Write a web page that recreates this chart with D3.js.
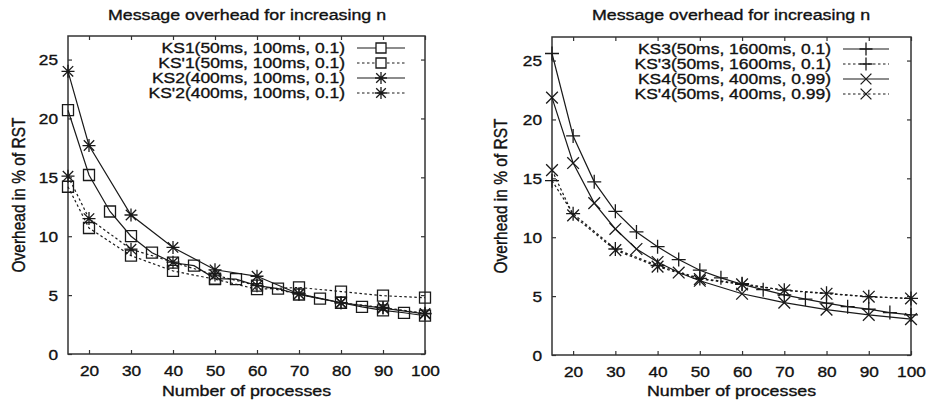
<!DOCTYPE html>
<html>
<head>
<meta charset="utf-8">
<script src="https://cdn.jsdelivr.net/npm/d3@7"></script>
<style>
  body { margin: 0; background: #fff; }
  svg text { font-family: "Liberation Sans", Arial, sans-serif; fill: #111; stroke: #111; stroke-width: 0.35px; }
</style>
</head>
<body>
<svg id="chart" width="928" height="401"></svg>
<script>
// x positions (number of processes)
const nFine = [15, 20, 25, 30, 35, 40, 45, 50, 55, 60, 65, 70, 75, 80, 85, 90, 95, 100];
const nCoarse = [15, 20, 30, 40, 50, 60, 70, 80, 90, 100];
const nKS4 = [15, 20, 25, 30, 35, 40, 45, 50, 60, 70, 80, 90, 100];
const xTicks = [20, 30, 40, 50, 60, 70, 80, 90, 100];
const yTicks = [0, 5, 10, 15, 20, 25];

// overhead in % of RST
const ks1 = [20.7, 15.2, 12.1, 10.0, 8.6, 7.75, 7.5, 6.4, 6.35, 5.8, 5.55, 5.05, 4.7, 4.35, 4.0, 3.7, 3.5, 3.25];
const ks1p = [14.2, 10.7, 8.35, 7.05, 6.35, 5.5, 5.65, 5.3, 4.95, 4.78];
const ks2 = [24.0, 17.7, 11.8, 9.05, 7.15, 6.6, 5.1, 4.35, 3.9, 3.4];
const ks2p = [15.1, 11.5, 8.9, 7.8, 6.7, 5.8, 5.1, 4.35, 3.95, 3.45];
const ks3 = [25.6, 18.6, 14.7, 12.2, 10.45, 9.2, 8.1, 7.2, 6.55, 6.0, 5.55, 5.1, 4.75, 4.4, 4.1, 3.9, 3.6, 3.4];
const ks3p = [14.8, 12.0, 9.0, 7.6, 6.5, 6.05, 5.5, 5.25, 4.95, 4.8];
const ks4 = [21.85, 16.3, 12.9, 10.7, 9.0, 7.9, 7.0, 6.3, 5.2, 4.45, 3.85, 3.4, 3.05];
const ks4p = [15.7, 11.85, 8.9, 7.5, 6.45, 6.0, 5.5, 5.2, 4.95, 4.8];

const titleText = "Message overhead for increasing n";
const xLabelText = "Number of processes";
const yLabelText = "Overhead in % of RST";

const SX = 1.15;      // the scanned figure is stretched horizontally
const INK = "#1a1a1a";

const svg = d3.select("#chart");

// marker shapes, drawn as stroked paths
function markerPath(type, s) {
  const p = d3.path();
  if (type === "square") {
    p.rect(-s / 2, -s / 2, s, s);
  }
  if (type === "plus" || type === "star") {
    p.moveTo(-s / 2, 0); p.lineTo(s / 2, 0);
    p.moveTo(0, -s / 2); p.lineTo(0, s / 2);
  }
  if (type === "times" || type === "star") {
    const d = type === "star" ? s * 0.4 : s * 0.45;
    p.moveTo(-d, -d); p.lineTo(d, d);
    p.moveTo(-d, d); p.lineTo(d, -d);
  }
  return p.toString();
}
const markerSize = { square: 11, star: 13, plus: 14, times: 13 };

function stretched(g, x, y, str, anchor, size) {
  return g.append("text")
    .attr("transform", `translate(${x},${y}) scale(${SX},1)`)
    .attr("text-anchor", anchor)
    .attr("font-size", size)
    .text(str);
}

function drawPanel(cfg) {
  const g = svg.append("g");
  const x = d3.scaleLinear().domain([15, 100]).range([cfg.left, cfg.right]);
  const y = d3.scaleLinear().domain([0, 27]).range([cfg.bottom, cfg.top]);

  // inward ticks on all four sides
  const axes = [
    [d3.axisBottom(x).tickValues(xTicks), `translate(0,${cfg.bottom})`, true],
    [d3.axisTop(x).tickValues(xTicks).tickFormat(""), `translate(0,${cfg.top})`, false],
    [d3.axisLeft(y).tickValues(yTicks), `translate(${cfg.left},0)`, true],
    [d3.axisRight(y).tickValues(yTicks).tickFormat(""), `translate(${cfg.right},0)`, false]
  ];
  axes.forEach(([ax, tr, labelled], i) => {
    const a = g.append("g").attr("transform", tr)
      .call(ax.tickSizeInner(-4).tickSizeOuter(0).tickPadding(10));
    a.select(".domain").remove();
    a.selectAll(".tick line").attr("stroke", "#333").attr("stroke-width", 1.2);
    if (!labelled) return;
    const t = a.selectAll(".tick text")
      .attr("font-size", 15)
      .attr("font-family", "Liberation Sans, Arial, sans-serif")
      .attr("fill", "#111");
    if (i === 0) t.attr("y", 11).attr("dy", "0.71em").attr("transform", `scale(${SX},1)`);
    else t.attr("x", -10 / SX).attr("dy", "0.36em").attr("transform", `scale(${SX},1)`);
  });

  g.append("rect")
    .attr("x", cfg.left).attr("y", cfg.top)
    .attr("width", cfg.right - cfg.left).attr("height", cfg.bottom - cfg.top)
    .attr("fill", "none").attr("stroke", "#333").attr("stroke-width", 1.5);

  stretched(g, cfg.titleX, 20, titleText, "middle", 15.5);
  stretched(g, (cfg.left + cfg.right) / 2, 396, xLabelText, "middle", 15.5);
  g.append("text")
    .attr("transform", `translate(${cfg.yLabelX},${(cfg.top + cfg.bottom) / 2}) rotate(-90) scale(1,${SX})`)
    .attr("text-anchor", "middle")
    .attr("font-size", 15.5)
    .text(yLabelText);

  const line = d3.line().x(d => x(d[0])).y(d => y(d[1]));

  cfg.series.forEach((s, k) => {
    const pts = s.n.map((n, i) => [n, s.v[i]]);
    g.append("path")
      .datum(pts)
      .attr("d", line)
      .attr("fill", "none")
      .attr("stroke", INK)
      .attr("stroke-width", 1.2)
      .attr("stroke-dasharray", s.dashed ? "2.5,2.5" : null);
    g.append("g").selectAll("path")
      .data(pts)
      .join("path")
      .attr("transform", d => `translate(${x(d[0])},${y(d[1])})`)
      .attr("d", markerPath(s.marker, markerSize[s.marker]))
      .attr("fill", "none")
      .attr("stroke", INK)
      .attr("stroke-width", 1.3);

    // legend row
    const ly = cfg.legendY0 + k * 15;
    stretched(g, cfg.legendTextX, ly, s.label, "end", 15.2).attr("dy", "0.36em");
    g.append("line")
      .attr("x1", cfg.legendLine[0]).attr("x2", cfg.legendLine[1])
      .attr("y1", ly).attr("y2", ly)
      .attr("stroke", INK).attr("stroke-width", 1.2)
      .attr("stroke-dasharray", s.dashed ? "2.5,2.5" : null);
    g.append("path")
      .attr("transform", `translate(${(cfg.legendLine[0] + cfg.legendLine[1]) / 2},${ly})`)
      .attr("d", markerPath(s.marker, markerSize[s.marker] - 1))
      .attr("fill", "#fff")
      .attr("stroke", INK)
      .attr("stroke-width", 1.3);
  });
}

drawPanel({
  left: 68, right: 425, top: 36, bottom: 354,
  titleX: 247, yLabelX: 25,
  legendTextX: 345, legendLine: [357, 405], legendY0: 48,
  series: [
    { label: "KS1(50ms, 100ms, 0.1)", n: nFine, v: ks1, marker: "square", dashed: false },
    { label: "KS'1(50ms, 100ms, 0.1)", n: nCoarse, v: ks1p, marker: "square", dashed: true },
    { label: "KS2(400ms, 100ms, 0.1)", n: nCoarse, v: ks2, marker: "star", dashed: false },
    { label: "KS'2(400ms, 100ms, 0.1)", n: nCoarse, v: ks2p, marker: "star", dashed: true }
  ]
});

drawPanel({
  left: 552, right: 911, top: 37, bottom: 355,
  titleX: 731, yLabelX: 507,
  legendTextX: 831, legendLine: [843, 889], legendY0: 49,
  series: [
    { label: "KS3(50ms, 1600ms, 0.1)", n: nFine, v: ks3, marker: "plus", dashed: false },
    { label: "KS'3(50ms, 1600ms, 0.1)", n: nCoarse, v: ks3p, marker: "plus", dashed: true },
    { label: "KS4(50ms, 400ms, 0.99)", n: nKS4, v: ks4, marker: "times", dashed: false },
    { label: "KS'4(50ms, 400ms, 0.99)", n: nCoarse, v: ks4p, marker: "times", dashed: true }
  ]
});
</script>
</body>
</html>
